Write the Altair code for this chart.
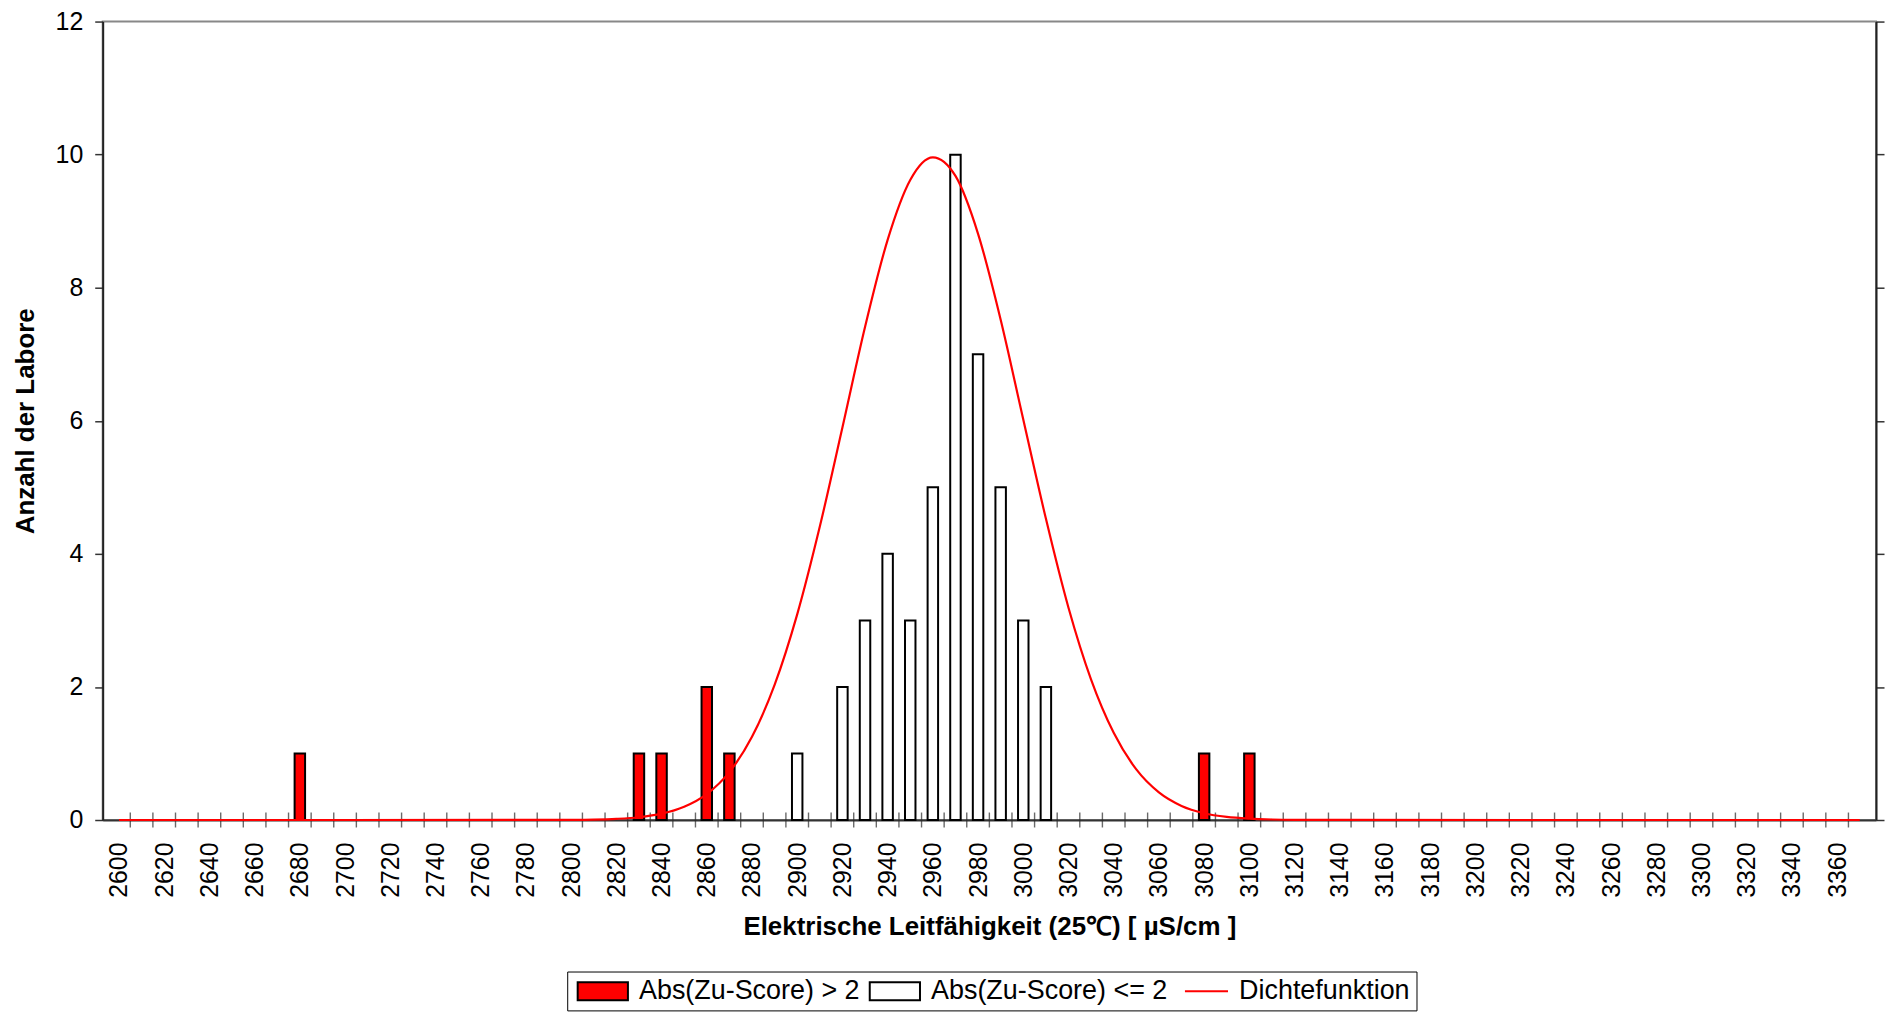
import altair as alt
import pandas as pd

FONT = "Arial, Liberation Sans, sans-serif"

# Histogram bars: |z| > 2 (red) and |z| <= 2 (white)
red_v = [2680, 2830, 2840, 2860, 2870, 3080, 3100]
red_n = [1, 1, 1, 2, 1, 1, 1]
white_v = [2900, 2920, 2930, 2940, 2950, 2960, 2970, 2980, 2990, 3000, 3010]
white_n = [1, 2, 3, 4, 3, 5, 10, 7, 5, 3, 2]

# Density curve
curve_v = [2600, 2700, 2780, 2800, 2810, 2820, 2830, 2840, 2850, 2860, 2870,
           2880, 2890, 2900, 2910, 2920, 2930, 2940, 2950, 2960, 2970, 2980,
           2990, 3000, 3010, 3020, 3030, 3040, 3050, 3060, 3070, 3080, 3090,
           3100, 3110, 3120, 3140, 3370]
curve_d = [0, 0, 0.001, 0.003, 0.007, 0.018, 0.042, 0.095, 0.2, 0.39, 0.72,
           1.25, 2.03, 3.09, 4.41, 5.9, 7.41, 8.72, 9.62, 9.96, 9.68, 8.81,
           7.52, 6.02, 4.53, 3.19, 2.11, 1.31, 0.76, 0.415, 0.212, 0.102, 0.046,
           0.02, 0.008, 0.003, 0.001, 0]

x_label_values = list(range(2600, 3361, 20))
x_tick_values = list(range(2605, 3366, 10))
y_tick_values = [0, 2, 4, 6, 8, 10, 12]
x_domain = [2595, 3375]
y_domain = [0, 12]

legend_labels = ["Abs(Zu-Score) > 2", "Abs(Zu-Score) <= 2", "Dichtefunktion"]
legend_fill = ["#FF0000", "#FFFFFF", "#FF0000"]
legend_stroke = ["#000000", "#000000", "#FF0000"]
legend_shapes = ["M-1,-1H4.6V1H-1Z", "M-1,-1H4.6V1H-1Z", "M-0.2,0H4.6"]

red_df = pd.DataFrame({"v": red_v, "n": red_n})
white_df = pd.DataFrame({"v": white_v, "n": white_n})
curve_df = pd.DataFrame({"v": curve_v, "n": curve_d})
ticks_df = pd.DataFrame({"v": x_tick_values})
leg_df = pd.DataFrame({"s": legend_labels})

xs = alt.Scale(domain=x_domain, nice=False, zero=False)
ys = alt.Scale(domain=y_domain, nice=False)

x_axis = alt.Axis(
    values=x_label_values, format="d", labelAngle=-90, ticks=False, tickSize=0,
    labelPadding=22, labelFontSize=25, labelFont=FONT, labelColor="black",
    labelOverlap=False, domainColor="#333333", domainWidth=2, grid=False,
    title="Elektrische Leitfähigkeit (25℃) [ µS/cm ]", titleFont=FONT,
    titleFontSize=26, titleFontWeight="bold", titleColor="black", titlePadding=16,
)
y_axis_left = alt.Axis(
    values=y_tick_values, format="d", tickSize=8, tickColor="#333333", tickWidth=1.5,
    labelPadding=12, labelFontSize=25, labelFont=FONT, labelColor="black",
    domainColor="#222222", domainWidth=2, grid=False,
    title="Anzahl der Labore", titleFont=FONT, titleFontSize=26,
    titleFontWeight="bold", titleColor="black", titlePadding=17,
)
y_axis_right = alt.Axis(
    orient="right", values=y_tick_values, tickSize=8, tickColor="#333333",
    tickWidth=1.5, labels=False, domainColor="#222222", domainWidth=2,
    grid=False, title=None,
)

X = alt.X("v:Q", scale=xs, axis=x_axis)

xticks = alt.Chart(ticks_df).mark_tick(
    orient="vertical", size=15, thickness=1.4, color="#2a2a2a"
).encode(
    x=X,
    y=alt.Y(datum=0, scale=ys, axis=y_axis_left),
)

red_bars = alt.Chart(red_df).mark_bar(
    orient="vertical", width=10.5, fill="#FF0000", stroke="black", strokeWidth=2
).encode(
    x=X,
    y=alt.Y("n:Q", scale=ys, axis=None),
)

white_bars = alt.Chart(white_df).mark_bar(
    orient="vertical", width=10.5, fill="#FFFFFF", stroke="black", strokeWidth=2
).encode(
    x=X,
    y=alt.Y("n:Q", scale=ys, axis=None),
)

curve = alt.Chart(curve_df).mark_line(
    color="#FF0000", strokeWidth=2.2, interpolate="monotone"
).encode(
    x=X,
    y=alt.Y("n:Q", scale=ys, axis=y_axis_right),
)

leg = alt.Legend(
    orient="none", legendX=466, legendY=953, direction="horizontal", title=None,
    symbolSize=324, symbolStrokeWidth=2, symbolOpacity=1,
    labelFontSize=27, labelFont=FONT, labelColor="black", labelLimit=500,
    labelOffset=39, columnPadding=5, padding=6,
    strokeColor="black", fillColor="white",
)
legend_layer = alt.Chart(leg_df).mark_point(filled=True, opacity=0).encode(
    fill=alt.Fill("s:N", scale=alt.Scale(domain=legend_labels, range=legend_fill),
                  legend=leg, sort=legend_labels),
    stroke=alt.Stroke("s:N", scale=alt.Scale(domain=legend_labels, range=legend_stroke),
                      legend=leg, sort=legend_labels),
    shape=alt.Shape("s:N", scale=alt.Scale(domain=legend_labels, range=legend_shapes),
                    legend=leg, sort=legend_labels),
)

chart = alt.layer(xticks, red_bars, white_bars, curve, legend_layer).resolve_axis(
    y="independent"
).properties(
    width=1779, height=801,
    autosize=alt.AutoSizeParams(type="none"),
    padding={"left": 95, "top": 12, "right": 10, "bottom": 191},
    background="white",
).configure_view(stroke="#888888", strokeWidth=2)

chart.save("out.html", embed_options={"renderer": "svg", "actions": False})
